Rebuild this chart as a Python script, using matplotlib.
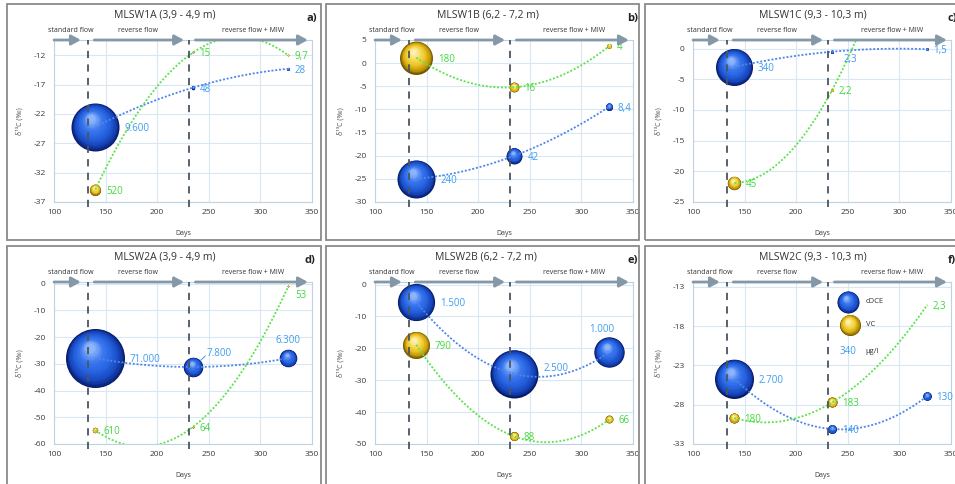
import numpy as np
import matplotlib
matplotlib.use('Agg')
import matplotlib.pyplot as plt
from matplotlib.colors import LinearSegmentedColormap
from matplotlib.patches import Rectangle
from matplotlib.transforms import offset_copy, blended_transform_factory

plt.rcParams['font.family'] = ['Open Sans', 'DejaVu Sans']
plt.rcParams['axes.unicode_minus'] = False

# sampling days and start of the flow phases
days = [140, 235, 327]
phase_starts = [133, 231]

titles = ['MLSW1A (3,9 - 4,9 m)', 'MLSW1B (6,2 - 7,2 m)', 'MLSW1C (9,3 - 10,3 m)',
          'MLSW2A (3,9 - 4,9 m)', 'MLSW2B (6,2 - 7,2 m)', 'MLSW2C (9,3 - 10,3 m)']
letters = ['a)', 'b)', 'c)', 'd)', 'e)', 'f)']

# d13C (permil) per well, three sampling days
cdce_d13c = [[-24.2, -17.5, -14.3], [-25.0, -20.0, -9.4], [-3.0, -0.5, -0.1],
             [-27.9, -31.2, -27.9], [-5.5, -28.0, -21.2], [-24.7, -31.1, -26.9]]
vc_d13c = [[-34.9, -11.5, -12.0], [1.2, -5.2, 3.7], [-21.9, -6.7, 36.0],
           [-54.9, -53.5, -1.0], [-18.9, -47.6, -42.3], [-29.7, -27.7, -15.3]]

# concentrations in ug/l (bubble area)
cdce_conc = [[9600, 48, 28], [240, 42, 8.4], [340, 2.3, 1.5],
             [71000, 7800, 6300], [1500, 2500, 1000], [2700, 140, 130]]
vc_conc = [[520, 15, 9.7], [180, 16, 4], [45, 2.2, None],
           [610, 64, 53], [790, 88, 66], [180, 183, 2.3]]

y_ranges = [(-37, -9.4), (-30, 5.0), (-25, 1.4), (-60, 0.6), (-50, 0.8), (-33, -12.4)]
y_steps = [5, 5, 5, 10, 10, 5]

flow_labels = ['standard flow', 'reverse flow', 'reverse flow + MIW']
flow_arrows = [(100, 126), (139, 226), (237, 346)]
flow_label_x = [116, 181, 293]

W, H = 955, 484
fig = plt.figure(figsize=(W / 100, H / 100), dpi=100)
fig.patch.set_facecolor('white')

PX = 0.72  # points per pixel at dpi 100
axes_px = [(54, 40), (375, 40), (693, 40), (54, 282), (375, 282), (693, 282)]
AW, AH = 258, 162
max_d = [48, 38, 37, 59, 48, 39]
title_px = [(165, 15), (488, 15), (813, 15), (165, 257), (486, 257), (813, 257)]
letter_px = [(312, 18), (633, 18), (952, 18), (310, 260), (633, 260), (952, 260)]
frames_px = [(7, 4, 321, 240), (326, 4, 639, 240), (645, 4, 962, 240),
             (7, 246, 321, 490), (326, 246, 639, 490), (645, 246, 962, 490)]

blue_cm = LinearSegmentedColormap.from_list(
    'sph_b', ['#061a66', '#1746bd', '#2662df', '#3b78ee', '#8db5fb'])
yell_cm = LinearSegmentedColormap.from_list(
    'sph_y', ['#6a5200', '#c39808', '#eac222', '#f6da55', '#fff0b0'])
blue_line, green_line = '#4f86ec', '#5ee34e'
blue_txt, green_txt = '#3f9cf0', '#41d83c'
grid_c = '#d9e7f3'
arrow_c = '#8598a8'
dash_c = '#4a5561'

# label placement tweaks: (panel, series, index) -> (dx px, dy px, ha, leader)
label_moves = {
    (2, 0, 1): (11, -8, 'left', False),
    (3, 0, 1): (13, 14, 'left', True),
    (3, 0, 2): (0, 18, 'center', False),
    (3, 1, 2): (7, -9, 'left', False),
    (4, 0, 1): (29, 5, 'left', False),
    (4, 0, 2): (-8, 23, 'center', False),
}


def de_fmt(v):
    if v >= 1000:
        return f"{int(v):,}".replace(',', '.')
    if v != int(v):
        return str(v).replace('.', ',')
    return str(int(v))


def sphere(ax, x, y, d, cmap, transform, z=3, clip=True):
    n = 26
    for k in range(n):
        t = k / (n - 1)
        dk = d * (1 - 0.85 * t)
        sh = d * 0.18 * t * PX
        tr = offset_copy(transform, fig=fig, x=-0.5 * sh, y=sh, units='points')
        ax.scatter([x], [y], s=(dk * PX) ** 2, color=cmap(t ** 0.8), lw=0,
                   transform=tr, zorder=z, clip_on=clip)


for i in range(6):
    l, t = axes_px[i]
    ax = fig.add_axes([l / W, 1 - (t + AH) / H, AW / W, AH / H])
    ax.set_xlim(100, 350)
    ax.set_ylim(*y_ranges[i])
    ax.set_xticks(np.arange(100, 351, 50))
    ax.set_yticks(np.arange(y_ranges[i][0], y_ranges[i][1] + 0.01, y_steps[i]))
    ax.grid(True, color=grid_c, lw=0.8, zorder=0)
    ax.set_axisbelow(True)
    for s in ax.spines.values():
        s.set_color('#bcd3e6')
        s.set_linewidth(0.8)
    ax.tick_params(length=0, labelsize=6, colors='#3a3a3a')
    ax.tick_params(axis='x', pad=5)
    ax.tick_params(axis='y', pad=6)
    ax.set_xlabel('Days', fontsize=5, color='#3a3a3a')
    ax.xaxis.set_label_coords(0.5, -0.17)
    ax.set_ylabel('δ¹³C (‰)', fontsize=5, color='#555555')
    ax.yaxis.set_label_coords(-0.12, 0.5)

    btr = blended_transform_factory(ax.transData, ax.transAxes)

    # concentrations scale bubble area within each panel
    cmax = max(c for c in cdce_conc[i] + vc_conc[i] if c is not None)
    for si, (vals, conc, cm, lc, tc) in enumerate([
            (cdce_d13c[i], cdce_conc[i], blue_cm, blue_line, blue_txt),
            (vc_d13c[i], vc_conc[i], yell_cm, green_line, green_txt)]):
        coef = np.polyfit(days, vals, 2)
        xs = np.linspace(days[0], days[-1], 300)
        ax.plot(xs, np.polyval(coef, xs), ls=(0, (1.1, 1.0)), lw=1.3,
                color=lc, zorder=4)
        for k, (x, y, c) in enumerate(zip(days, vals, conc)):
            if c is None:
                continue
            d = max_d[i] * np.sqrt(c / cmax)
            sphere(ax, x, y, d, cm, ax.transData)
            r = d / 2
            dx, dy, ha, leader = label_moves.get((i, si, k), (r + 5, -1.5, 'left', False))
            ax.annotate(de_fmt(c), (x, y), xytext=(dx * PX, dy * PX),
                        textcoords='offset points', ha=ha, va='center',
                        fontsize=7, color=tc, zorder=6)
            if leader:
                ax.annotate('', (x, y), xytext=((dx - 1) * PX, (dy - 3) * PX),
                            textcoords='offset points',
                            arrowprops=dict(arrowstyle='-', color=tc, lw=0.7,
                                            shrinkA=0, shrinkB=r * PX),
                            zorder=6)

    # phase boundaries
    for xp in phase_starts:
        ax.plot([xp, xp], [-0.03, 1.0], transform=btr, clip_on=False,
                color=dash_c, lw=1.3, dashes=(4, 3.5), zorder=5)

    # flow regime arrows above the plot area
    for (x0, x1), lab, xl in zip(flow_arrows, flow_labels, flow_label_x):
        ax.annotate('', xy=(x1, 1.0), xytext=(x0, 1.0), xycoords=btr,
                    textcoords=btr, annotation_clip=False,
                    arrowprops=dict(arrowstyle='-|>,head_length=0.55,head_width=0.3',
                                    color=arrow_c, lw=2.0, mutation_scale=10,
                                    shrinkA=0, shrinkB=0), zorder=6)
        ax.annotate(lab, (xl, 1.0), xycoords=btr, xytext=(0, 4),
                    textcoords='offset points', ha='center', va='bottom',
                    fontsize=5, color='#333333', annotation_clip=False)

    tx, ty = title_px[i]
    fig.text(tx / W, 1 - ty / H, titles[i], ha='center', va='center',
             fontsize=7.5, color='#333333')
    lx, ly = letter_px[i]
    fig.text(lx / W, 1 - ly / H, letters[i], ha='center', va='center',
             fontsize=8, fontweight='bold', color='#222222')
    x0, y0, x1, y1 = frames_px[i]
    fig.add_artist(Rectangle((x0 / W, 1 - y1 / H), (x1 - x0) / W, (y1 - y0) / H,
                             transform=fig.transFigure, fill=False,
                             edgecolor='#8a8a8a', lw=1.3))

    # legend drawn inside the last panel
    if i == 5:
        sphere(ax, 0.601, 0.877, 22, blue_cm, ax.transAxes, z=6, clip=False)
        sphere(ax, 0.608, 0.735, 21, yell_cm, ax.transAxes, z=6, clip=False)
        ax.text(0.601, 0.568, '340', transform=ax.transAxes, ha='center',
                va='center', fontsize=7, color=blue_txt, zorder=7)
        for yy, lab in zip([0.877, 0.735, 0.568], ['cDCE', 'VC', 'µg/l']):
            ax.text(0.67, yy, lab, transform=ax.transAxes, ha='left',
                    va='center', fontsize=5.5, color='#333333', zorder=7)

fig.savefig('out.png', dpi=100, facecolor='white')
